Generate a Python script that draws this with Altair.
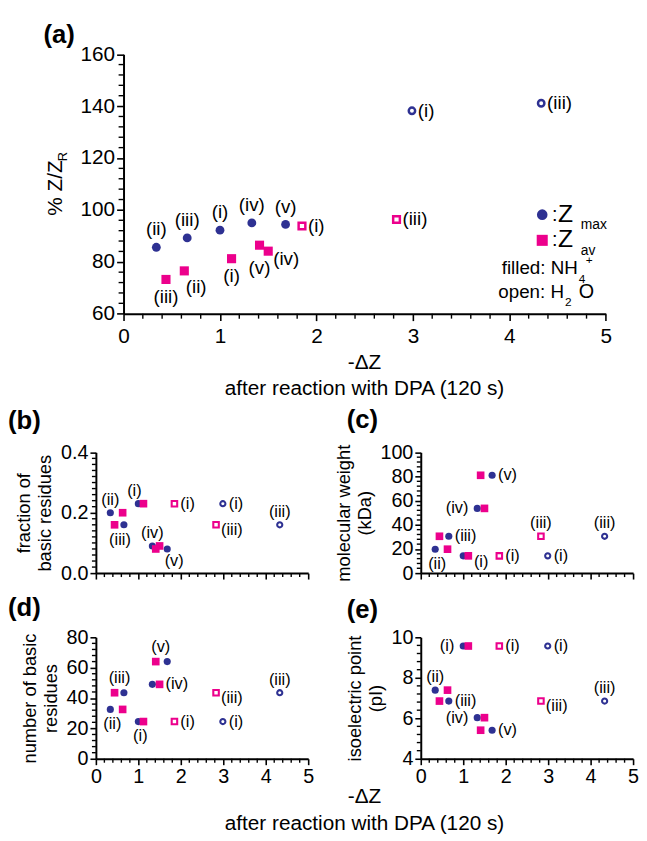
import altair as alt
import pandas as pd

FONT = "Liberation Sans"
NAVY = "#2e3192"
MAGENTA = "#ec008c"

# ---------------- data ----------------
proteins = ["(i)", "(ii)", "(iii)", "(iv)", "(v)"]
# -ΔZ after reaction with DPA, NH4+ (filled markers)
dz_max_nh4 = [1.00, 0.34, 0.66, 1.33, 1.68]
dz_av_nh4 = [1.12, 0.63, 0.44, 1.50, 1.41]
pct_max_nh4 = [92.2, 85.6, 89.2, 95.0, 94.4]
pct_av_nh4 = [81.2, 76.5, 73.2, 84.1, 86.4]
# H2O (open markers), only proteins (i) and (iii)
h2o_proteins = ["(i)", "(iii)"]
dz_max_h2o = [2.99, 4.33]
dz_av_h2o = [1.85, 2.83]
pct_max_h2o = [138.2, 141.1]
pct_av_h2o = [93.8, 96.3]
# protein properties
frac_basic = [0.23, 0.20, 0.16, 0.09, 0.08]
mol_weight = [14.3, 19.8, 30.5, 53.6, 81.0]
n_basic = [24.5, 32.5, 43.5, 49.0, 64.0]
iso_point = [9.57, 7.39, 6.85, 6.03, 5.41]

# label specs: (series, protein, placement)
labels_a = [("cmax", "(ii)", "t"), ("cmax", "(iii)", "t"), ("cmax", "(i)", "t"),
            ("cmax", "(iv)", "t"), ("cmax", "(v)", "t"),
            ("sav", "(iii)", "b"), ("sav", "(ii)", "br"), ("sav", "(i)", "b"),
            ("sav", "(v)", "b2"), ("sav", "(iv)", "rb"),
            ("oav", "(i)", "r"), ("oav", "(iii)", "r"), ("omax", "(i)", "r"), ("omax", "(iii)", "r")]
labels_b = [("cmax", "(ii)", "t"), ("cmax", "(i)", "tl"), ("cmax", "(iii)", "bl"),
            ("cmax", "(iv)", "t"), ("cmax", "(v)", "br"),
            ("oav", "(i)", "r"), ("omax", "(i)", "r"), ("oav", "(iii)", "rb"), ("omax", "(iii)", "t")]
labels_c = [("cmax", "(v)", "r"), ("cmax", "(iv)", "l"), ("cmax", "(iii)", "r"), ("cmax", "(ii)", "b"),
            ("sav", "(i)", "bs"), ("oav", "(i)", "r"), ("omax", "(i)", "r"),
            ("oav", "(iii)", "t"), ("omax", "(iii)", "t")]
labels_d = [("sav", "(v)", "tr"), ("sav", "(iii)", "tr"), ("sav", "(iv)", "r"),
            ("cmax", "(ii)", "b"), ("cmax", "(i)", "b"),
            ("oav", "(i)", "r"), ("oav", "(iii)", "rb"), ("omax", "(i)", "r"), ("omax", "(iii)", "t")]
labels_e = [("cmax", "(i)", "l"), ("cmax", "(ii)", "t"), ("cmax", "(iii)", "r"),
            ("cmax", "(iv)", "l"), ("cmax", "(v)", "r"),
            ("oav", "(i)", "r"), ("omax", "(i)", "r"), ("oav", "(iii)", "rb"), ("omax", "(iii)", "t")]

# ---------------- tables ----------------
rows = []
for k, p in enumerate(proteins):
    props = dict(frac=frac_basic[k], mw=mol_weight[k], nb=n_basic[k], pi=iso_point[k])
    rows.append(dict(series="cmax", protein=p, dz=dz_max_nh4[k], pct=pct_max_nh4[k], **props))
    rows.append(dict(series="sav", protein=p, dz=dz_av_nh4[k], pct=pct_av_nh4[k], **props))
for k, p in enumerate(h2o_proteins):
    j = proteins.index(p)
    props = dict(frac=frac_basic[j], mw=mol_weight[j], nb=n_basic[j], pi=iso_point[j])
    rows.append(dict(series="omax", protein=p, dz=dz_max_h2o[k], pct=pct_max_h2o[k], **props))
    rows.append(dict(series="oav", protein=p, dz=dz_av_h2o[k], pct=pct_av_h2o[k], **props))
df = pd.DataFrame(rows)


def label_table(specs):
    lab = pd.DataFrame(specs, columns=["series", "protein", "place"])
    return lab.merge(df, on=["series", "protein"], how="left")


# ---------------- layout (chart pixels; page = chart + 8) ----------------
CW, CH = 639, 833
BOX = {
    "a": dict(x0=117, x1=605.4, yb=304.3, yt=41.5),
    "b": dict(x0=89, x1=304, yb=567, yt=444.7),
    "c": dict(x0=418, x1=633, yb=567, yt=444.7),
    "d": dict(x0=89, x1=304, yb=755, yt=632),
    "e": dict(x0=418, x1=633, yb=755, yt=632),
}

PLACE_BIG = {"t": (0, -18, "center"), "b": (0, 18, "center"), "b2": (0, 23, "center"),
             "br": (12, 16, "center"), "r": (6, 0, "left"), "rb": (5, 8, "left")}
PLACE_SMALL = {"t": (0, -13, "center"), "tl": (-4, -13, "center"), "tr": (5, -15, "center"),
               "b": (2, 15, "center"), "bl": (-4, 15, "center"), "br": (7, 12, "center"),
               "bs": (13, 6, "center"), "r": (6, 0, "left"), "rb": (5, 5, "left"),
               "l": (-9, 0, "right")}


def marker_styles(big):
    if big:
        return {"cmax": dict(shape="circle", filled=True, color=NAVY, size=80, opacity=1),
                "sav": dict(shape="square", filled=True, color=MAGENTA, size=85, opacity=1),
                "omax": dict(shape="circle", filled=False, color=NAVY, size=42, strokeWidth=2.5, opacity=1),
                "oav": dict(shape="square", filled=False, color=MAGENTA, size=46, strokeWidth=2.5, opacity=1)}
    return {"cmax": dict(shape="circle", filled=True, color=NAVY, size=52, opacity=1),
            "sav": dict(shape="square", filled=True, color=MAGENTA, size=60, opacity=1),
            "omax": dict(shape="circle", filled=False, color=NAVY, size=27, strokeWidth=2.1, opacity=1),
            "oav": dict(shape="square", filled=False, color=MAGENTA, size=31, strokeWidth=2.1, opacity=1)}


def steps(lo, hi, step):
    n = int(round((hi - lo) / step))
    return [round(lo + i * step, 6) for i in range(n + 1)]


def ann(text, x, y, size, align="left", weight="normal", angle=0):
    return alt.Chart(pd.DataFrame({"t": [text]})).mark_text(
        font=FONT, fontSize=size, align=align, baseline="middle", fontWeight=weight,
        angle=angle, color="black").encode(x=alt.value(x), y=alt.value(y), text="t:N")


def panel(key, ycol, ydom, ymaj, ymin, yfmt, big, labels, xlabels, ytitle=None):
    b = BOX[key]
    tick_fs = 21 if big else 20
    maj_len, min_len = (7, 4) if big else (6, 3)
    xs = alt.Scale(domain=[0, 5], range=[b["x0"], b["x1"]], nice=False, zero=False)
    ys = alt.Scale(domain=ydom, range=[b["yb"], b["yt"]], nice=False, zero=False)
    common = dict(grid=False, domainColor="black", domainWidth=2, tickColor="black",
                  tickWidth=1.6, tickSize=maj_len, labelFont=FONT, labelColor="black",
                  labelFontSize=tick_fs, labelOverlap=False, labelFlush=False)
    xa = alt.Axis(orient="bottom", offset=b["yb"] - CH, values=steps(0, 5, 1), format="d",
                  labels=xlabels, title=None, labelPadding=5 if big else 2, **common)
    if ytitle is None:
        ya = alt.Axis(orient="left", offset=-b["x0"], values=steps(ydom[0], ydom[1], ymaj),
                      format=yfmt, title=None, labelPadding=2, **common)
    else:
        ya = alt.Axis(orient="left", offset=-b["x0"], values=steps(ydom[0], ydom[1], ymaj),
                      format=yfmt, title=ytitle, titleFont=FONT, titleFontSize=18.5,
                      titleFontWeight="normal", titleColor="black", titleLineHeight=21,
                      titlePadding=6, labelPadding=2, **common)
    X = alt.X("dz:Q", scale=xs, axis=xa)
    Y = alt.Y(f"{ycol}:Q", scale=ys, axis=ya)
    layers = []
    # minor ticks
    mx = [v for v in steps(0, 5, 0.2) if abs(v - round(v)) > 1e-6]
    my = [v for v in steps(ydom[0], ydom[1], ymin)
          if abs(v / ymaj - round(v / ymaj)) > 1e-6]
    layers.append(alt.Chart(pd.DataFrame({"v": mx})).mark_rule(color="black", strokeWidth=1.4)
                  .encode(x=alt.X("v:Q", scale=xs, axis=xa),
                          y=alt.value(b["yb"]), y2=alt.value(b["yb"] + min_len + 1)))
    layers.append(alt.Chart(pd.DataFrame({"v": my})).mark_rule(color="black", strokeWidth=1.4)
                  .encode(y=alt.Y("v:Q", scale=ys, axis=ya),
                          x=alt.value(b["x0"] - min_len - 1), x2=alt.value(b["x0"])))
    for s, st in marker_styles(big).items():
        layers.append(alt.Chart(df).transform_filter(alt.datum.series == s)
                      .mark_point(**st).encode(x=X, y=Y))
    lab = label_table(labels)
    places = PLACE_BIG if big else PLACE_SMALL
    lab_fs = 19 if big else 16.5
    for code, (dx, dy, align) in places.items():
        sub = lab[lab.place == code]
        if len(sub) == 0:
            continue
        layers.append(alt.Chart(sub).mark_text(
            font=FONT, fontSize=lab_fs, dx=dx, dy=dy, align=align, baseline="middle",
            color="black").encode(x=X, y=Y, text="protein:N"))
    return alt.layer(*layers)


pa = panel("a", "pct", [60, 160], 20, 4, "d", True, labels_a, True)
pb = panel("b", "frac", [0, 0.4], 0.2, 0.02, ".1f", False, labels_b, False,
           ytitle=["fraction of", "basic residues"])
pc = panel("c", "mw", [0, 100], 20, 4, "d", False, labels_c, False,
           ytitle=["molecular weight", "(kDa)"])
pdd = panel("d", "nb", [0, 80], 20, 4, "d", False, labels_d, True,
            ytitle=["number of basic", "residues"])
pe = panel("e", "pi", [4, 10], 2, 0.4, "d", False, labels_e, True,
           ytitle=["isoelectric point", "(pI)"])

# ---------------- annotations ----------------
dot = lambda shape, color, size, x, y: alt.Chart(pd.DataFrame({"t": [0]})).mark_point(
    shape=shape, filled=True, color=color, size=size, opacity=1).encode(
    x=alt.value(x), y=alt.value(y))

notes = [
    ann("(a)", 36, 22, 26, weight="bold"),
    ann("(b)", 0, 413, 26, weight="bold"),
    ann("(c)", 343, 412, 26, weight="bold"),
    ann("(d)", 0, 602, 26, weight="bold"),
    ann("(e)", 343, 604, 26, weight="bold"),
    ann("% Z/Z", 49, 205, 21, angle=270),
    ann("R", 56, 150, 13, angle=270),
    ann("-\u0394Z", 361, 354, 21, align="center"),
    ann("after reaction with DPA (120 s)", 361, 381, 21, align="center"),
    ann("-\u0394Z", 361, 794, 21, align="center"),
    ann("after reaction with DPA (120 s)", 361, 821, 21, align="center"),
    dot("circle", NAVY, 115, 541, 204),
    dot("square", MAGENTA, 125, 541, 230),
    ann(":", 551, 204, 20), ann("Z", 557, 203, 25), ann("max", 580, 215, 14),
    ann(":", 551, 230, 20), ann("Z", 557, 229, 25), ann("av", 580, 241, 14),
    ann("filled: NH", 577, 258, 19, align="right"), ann("4", 578, 269, 12), ann("+", 585, 250, 12),
    ann("open: H", 563, 282, 19, align="right"), ann("2", 564, 293, 12), ann("O", 578, 282, 20),
]

chart = alt.layer(pa, pb, pc, pdd, pe, *notes).resolve_scale(
    x="independent", y="independent"
).properties(
    width=CW, height=CH, padding=0, autosize=alt.AutoSizeParams(type="none")
).configure_view(stroke=None)

chart.save("out.html", embed_options={"renderer": "svg", "actions": False})
